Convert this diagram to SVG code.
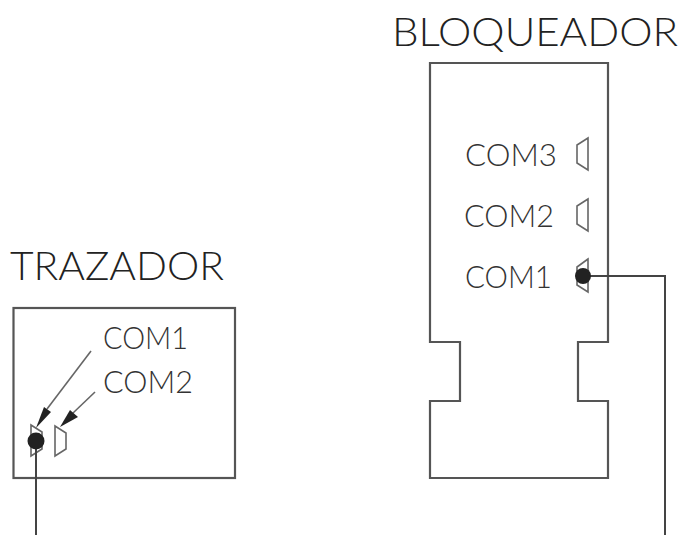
<svg xmlns="http://www.w3.org/2000/svg" width="681" height="535" viewBox="0 0 681 535">
<style>
.t{font-family:Lato,"Liberation Sans",sans-serif;font-weight:300;fill:#333}
.s{font-size:32px}
.l{font-family:Lato,"Liberation Sans",sans-serif;font-weight:300;font-size:40px;fill:#222}
.o{fill:none;stroke:#555;stroke-width:2.2}
.c{fill:none;stroke:#444;stroke-width:2}
.g{fill:none;stroke:#666;stroke-width:1.6}
.a{fill:#222;stroke:none}
</style>
<rect width="681" height="535" fill="#fff"/>
<g id="trazador">
<rect class="o" x="13.500" y="308" width="221.500" height="170"/>
<text class="l" x="10" y="280" textLength="214" lengthAdjust="spacingAndGlyphs">TRAZADOR</text>
<text class="t s" x="103" y="349" textLength="85" lengthAdjust="spacingAndGlyphs">COM1</text>
<text class="t s" x="103" y="393" textLength="90" lengthAdjust="spacingAndGlyphs">COM2</text>
<path class="g" d="M31 425L42 432V449L31 456Z"/>
<path class="g" d="M55 426L66 433V449L55 456Z"/>
</g>
<g id="bloqueador">
<path class="o" d="M430 63H608V342H578V401H608V478H430V401H460V342H430Z"/>
<text class="l" x="392" y="46" textLength="286" lengthAdjust="spacingAndGlyphs">BLOQUEADOR</text>
<text class="t s" x="465" y="166" textLength="92" lengthAdjust="spacingAndGlyphs">COM3</text>
<text class="t s" x="464" y="227" textLength="90" lengthAdjust="spacingAndGlyphs">COM2</text>
<text class="t s" x="465" y="288" textLength="87" lengthAdjust="spacingAndGlyphs">COM1</text>
<path class="g" d="M588 138L577 145V163L588 170Z"/>
<path class="g" d="M588 199L577 206V224L588 231Z"/>
<path class="g" d="M588 259L577 267V285L588 292Z"/>
</g>
<g id="connectors">
<path class="c" d="M36 442V535"/>
<circle class="a" cx="36" cy="441" r="8.500"/>
<path class="c" d="M584 276H665V535"/>
<circle class="a" cx="583" cy="276" r="8"/>
<path class="g" d="M91 351L47 409"/>
<path class="a" d="M44 407L51 412L36 428Z"/>
<path class="g" d="M95 392L73 413"/>
<path class="a" d="M70 410L78 417L60 427Z"/>
</g>
</svg>
